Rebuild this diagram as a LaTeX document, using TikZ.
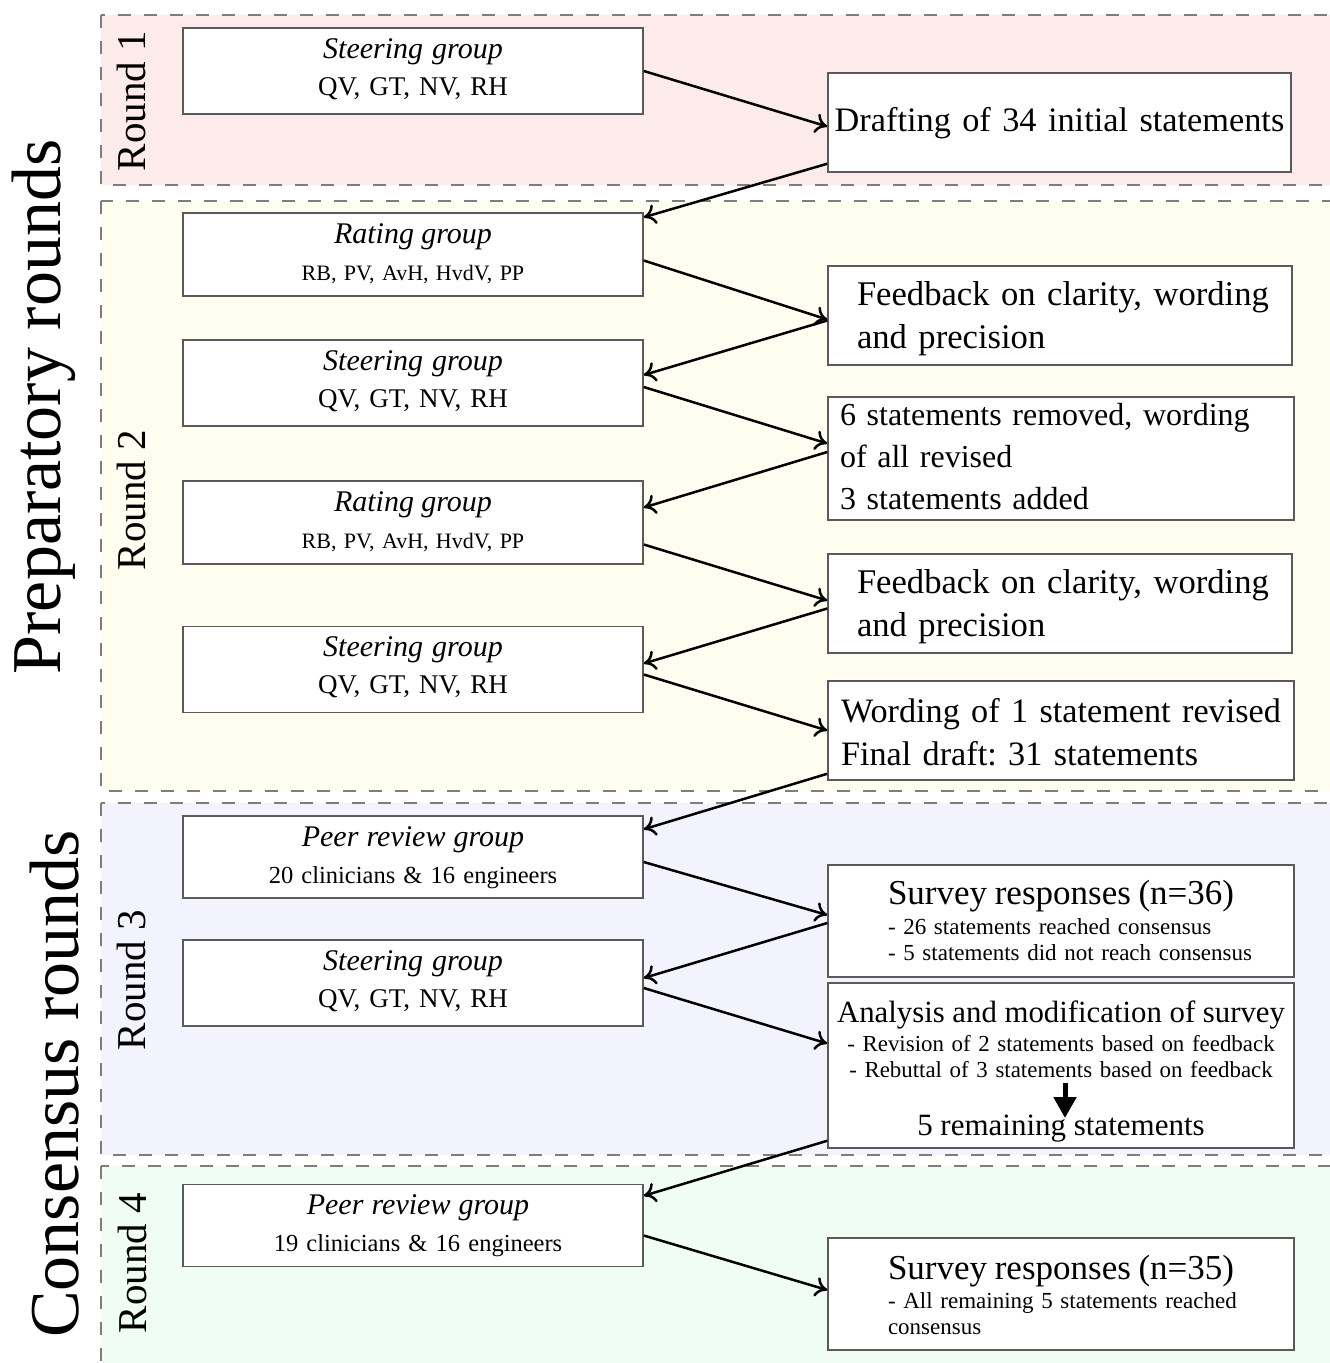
\documentclass[tikz,border=0pt]{standalone}
\usepackage{fontspec}
\setmainfont{Liberation Serif}
\usetikzlibrary{arrows.meta}
\frenchspacing
\definecolor{regA}{RGB}{253,235,235}
\definecolor{regB}{RGB}{254,253,240}
\definecolor{regC}{RGB}{243,243,253}
\definecolor{regD}{RGB}{240,253,244}
\definecolor{dashgray}{RGB}{125,125,125}
\definecolor{boxgray}{RGB}{90,90,90}
\newcommand\ind[1]{\hspace*{#1}}
\tikzset{
  region/.style={draw=dashgray, line width=2pt, dash pattern=on 13pt off 13pt},
  roundlbl/.style={rotate=90, anchor=base, font=\fontsize{41}{41}\selectfont},
  phaselbl/.style={rotate=90, anchor=base, font=\fontsize{70}{70}\selectfont},
  box/.style={draw=boxgray, line width=1.5pt, fill=white, inner sep=0pt},
  leftbox/.style={box, text width=460pt, minimum width=460pt, align=center, text height=0pt},
  steer/.style={leftbox, minimum height=86pt, text depth=26pt, font=\fontsize{27}{37}\selectfont},
  rating/.style={leftbox, minimum height=83pt, text depth=23pt, font=\fontsize{22}{37}\selectfont},
  peer/.style={leftbox, minimum height=82pt, text depth=22pt, font=\fontsize{24.5}{37}\selectfont},
  rightbox/.style={box, text width=466pt, minimum width=466pt, align=left},
  flow/.style={line width=2.5pt, -{To[length=12pt,width=20pt]}},
  bigdown/.style={line width=5pt, -{Triangle[length=21pt,width=22pt]}},
}
\begin{document}
\begin{tikzpicture}[x=1pt,y=-1pt]
\useasboundingbox (0,0) rectangle (1330,1363);
% regions
\path[region, fill=regA] (101,15) rectangle (1350,185);
\path[region, fill=regB] (101,201) rectangle (1350,791);
\path[region, fill=regC] (101,803) rectangle (1350,1155);
\path[region, fill=regD] (101,1166) rectangle (1350,1390);
% phase and round labels
\node[phaselbl] (prep) at (60,407) {Preparatory rounds};
\node[phaselbl] (cons) at (78,1084) {Consensus rounds};
\node[roundlbl] (r1) at (145,101) {Round 1};
\node[roundlbl] (r2) at (145,500) {Round 2};
\node[roundlbl] (r3) at (145,980) {Round 3};
\node[roundlbl] (r4) at (146,1263) {Round 4};
% left boxes
\node[steer] (S1) at (413,71) {{\fontsize{30}{37}\selectfont\itshape Steering group}\\QV, GT, NV, RH};
\node[rating] (R1) at (413,254.5) {{\fontsize{30}{37}\selectfont\itshape Rating group}\\RB, PV, AvH, HvdV, PP};
\node[steer] (S2) at (413,383) {{\fontsize{30}{37}\selectfont\itshape Steering group}\\QV, GT, NV, RH};
\node[rating] (R2) at (413,522.5) {{\fontsize{30}{37}\selectfont\itshape Rating group}\\RB, PV, AvH, HvdV, PP};
\node[steer] (S3) at (413,669.5) {{\fontsize{30}{37}\selectfont\itshape Steering group}\\QV, GT, NV, RH};
\node[peer] (P1) at (413,857) {{\fontsize{30}{37}\selectfont\itshape Peer review group}\\20 clinicians \& 16 engineers};
\node[steer] (S4) at (413,983) {{\fontsize{30}{37}\selectfont\itshape Steering group}\\QV, GT, NV, RH};
\node[peer] (P2) at (413,1225.5) {\ind{10pt}{\fontsize{30}{37}\selectfont\itshape Peer review group}\\\ind{10pt}19 clinicians \& 16 engineers};
% right boxes
\node[box, text width=463pt, minimum width=463pt, minimum height=99pt, align=center, text height=17pt, text depth=0pt, font=\fontsize{34.3}{43}\selectfont] (D) at (1059.5,122.5) {Drafting of 34 initial statements};
\node[rightbox, minimum width=464pt, text width=464pt, minimum height=99pt, text height=0pt, text depth=21pt, font=\fontsize{34.6}{43}\selectfont] (F1) at (1060,315.5) {\ind{29pt}Feedback on clarity, wording\\\ind{29pt}and precision};
\node[rightbox, minimum height=123pt, text height=0pt, text depth=66pt, font=\fontsize{32}{42}\selectfont] (M1) at (1061,458.5) {\ind{12pt}6 statements removed, wording\\\ind{12pt}of all revised\\\ind{12pt}3 statements added};
\node[rightbox, minimum width=464pt, text width=464pt, minimum height=99pt, text height=0pt, text depth=21pt, font=\fontsize{34.6}{43}\selectfont] (F2) at (1060,603.5) {\ind{29pt}Feedback on clarity, wording\\\ind{29pt}and precision};
\node[rightbox, minimum height=99pt, text height=0pt, text depth=17pt, font=\fontsize{34.2}{43}\selectfont] (W) at (1061,730.5) {\ind{13pt}Wording of 1 statement revised\\\ind{13pt}Final draft: 31 statements};
\node[rightbox, minimum height=112pt, text height=0pt, text depth=34pt, font=\fontsize{23}{26}\selectfont] (SR1) at (1061,921) {\ind{60pt}{\fontsize{35}{26}\selectfont Survey responses (n=36)}\\[4pt]\ind{60pt}- 26 statements reached consensus\\\ind{60pt}- 5 statements did not reach consensus};
\node[box, text width=466pt, minimum width=466pt, minimum height=165pt, align=center, text height=0pt, text depth=87pt, font=\fontsize{22.9}{26}\selectfont] (A) at (1061,1065.5) {{\fontsize{30.8}{26}\selectfont Analysis and modification of survey}\\[3pt]- Revision of 2 statements based on feedback\\- Rebuttal of 3 statements based on feedback\\[32pt]{\fontsize{31}{26}\selectfont 5 remaining statements}};
\node[rightbox, minimum height=112pt, text height=0pt, text depth=30pt, font=\fontsize{23}{26}\selectfont] (SR2) at (1061,1294) {\ind{60pt}{\fontsize{35}{26}\selectfont Survey responses (n=35)}\\[3pt]\ind{60pt}- All remaining 5 statements reached\\\ind{60pt}consensus};
% inner arrow
\coordinate (atop) at ([xshift=4pt,yshift=-17.5pt]A.center);
\coordinate (abot) at ([xshift=4pt,yshift=-52.5pt]A.center);
\draw[bigdown] (atop) -- (abot);
% flow arrows
\draw[flow] (S1.east) -- ([yshift=-4pt]D.west);
\draw[flow] ([yshift=9pt]D.south west) -- ([yshift=-5pt]R1.north east);
\draw[flow] ([yshift=-6pt]R1.east) -- ([yshift=-4pt]F1.west);
\draw[flow] ([yshift=-5pt]F1.west) -- ([yshift=8pt]S2.east);
\draw[flow] ([yshift=-4pt]S2.east) -- ([yshift=15pt]M1.west);
\draw[flow] ([yshift=6.5pt]M1.west) -- ([yshift=15pt]R2.east);
\draw[flow] ([yshift=-22pt]R2.east) -- ([yshift=3pt]F2.west);
\draw[flow] ([yshift=-5pt]F2.west) -- ([yshift=6pt]S3.east);
\draw[flow] ([yshift=-5pt]S3.east) -- (W.west);
\draw[flow] ([yshift=7pt]W.south west) -- ([yshift=-14pt]P1.north east);
\draw[flow] ([yshift=-5pt]P1.east) -- ([yshift=6pt]SR1.west);
\draw[flow] ([yshift=-2pt]SR1.west) -- ([yshift=5pt]S4.east);
\draw[flow] ([yshift=-5pt]S4.east) -- ([yshift=22pt]A.west);
\draw[flow] ([yshift=8pt]A.south west) -- ([yshift=-12pt]P2.north east);
\draw[flow] ([yshift=-10pt]P2.east) -- ([yshift=4pt]SR2.west);
\end{tikzpicture}
\end{document}
